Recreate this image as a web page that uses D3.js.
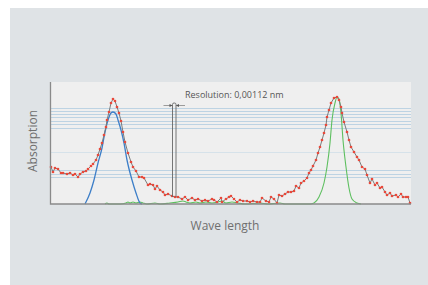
<!DOCTYPE html>
<html>
<head>
<meta charset="utf-8">
<script src="https://cdn.jsdelivr.net/npm/d3@7"></script>
<style>
  html, body { margin: 0; padding: 0; background: #fff; }
  svg { display: block; font-family: "Open Sans", "Noto Sans", sans-serif; }
</style>
</head>
<body>
<div id="chart"></div>
<script>
(function(){
	var width = 428, height = 285;
	var margin = {top: 82, right: 17, bottom: 81, left: 50};

	// measured spectrum (red dots + grey line)
	var measWave = [1, 3, 5, 8, 11, 13, 17, 20, 23, 25, 28, 30, 33, 36, 38, 41, 43, 46, 48, 50,
		52, 54, 56, 57, 59, 61, 63, 65, 67, 69, 71, 73, 75, 78, 81, 83, 86, 89, 92, 94,
		98, 100, 103, 105, 107, 110, 113, 115, 118, 122, 125, 128, 132, 135, 138, 142, 145, 148, 152, 155,
		158, 162, 164, 167, 171, 172, 176, 179, 181, 184, 187, 190, 193, 197, 200, 203, 207, 210, 212, 216,
		219, 221, 224, 227, 229, 232, 235, 238, 241, 244, 246, 249, 251, 254, 257, 259, 261, 263, 266, 268,
		270, 272, 274, 276, 277, 279, 281, 284, 287, 289, 291, 292, 294, 297, 299, 301, 304, 307, 309, 312,
		315, 317, 320, 322, 325, 327, 330, 332, 335, 337, 340, 342, 346, 348, 351, 353, 356, 358, 360];
	var measAbs = [37, 32, 36, 35, 31, 31, 30, 31, 29, 30, 27, 30, 32, 33, 35, 38, 40, 44, 49, 55,
		61, 69, 77, 84, 92, 101, 105, 103, 97, 91, 83, 72, 62, 51, 42, 37, 33, 27, 27, 26,
		19, 20, 19, 15, 18, 14, 12, 9, 10, 8, 7, 7, 5, 7, 4, 6, 4, 5, 3, 4,
		3, 5, 4, 2, 6, 2, 5, 7, 8, 5, 2, 4, 3, 3, 2, 3, 2, 2, 6, 3,
		2, 7, 5, 1, 9, 8, 10, 12, 12, 13, 18, 16, 21, 23, 26, 31, 34, 38, 44, 51,
		57, 64, 71, 79, 87, 94, 101, 106, 107, 104, 97, 91, 82, 72, 64, 57, 52, 47, 44, 37,
		35, 29, 21, 25, 19, 21, 16, 17, 12, 9, 11, 8, 9, 7, 10, 7, 7, 7, 1];

	// fitted component 1 (blue)
	var blueWave = [35, 40, 44, 48, 52, 55, 58, 61, 63, 66, 68, 71, 74, 77, 82, 86, 90, 92];
	var blueAbs  = [0, 11, 24, 41, 56, 72, 84, 91, 92, 90, 84, 74, 61, 44, 24, 11, 1, 0];

	// fitted component 2 (green)
	var greenWave = [55, 57, 59, 70, 76, 78, 80, 83, 86, 90, 93, 97, 105, 110, 120, 128, 133, 136, 140, 146,
		150, 156, 162, 168, 172, 176, 182, 188, 195, 210, 218, 230, 235, 250, 260, 264, 269, 274, 277, 280,
		282, 285, 287, 289, 291, 293, 296, 299, 302, 307, 311];
	var greenAbs = [0, 1, 0, 0, 1, 2, 1, 2, 1, 2, 1, 0, 1, 0, 1, 2, 3, 2, 1, 2,
		1, 2, 1, 2, 3, 1, 2, 1, 0, 1, 0, 1, 0, 0, 0, 1, 7, 21, 37, 61,
		84, 101, 107, 105, 91, 64, 37, 16, 5, 1, 0];

	// horizontal reference lines
	var gridLevels = [96, 93, 90, 87, 83, 80, 76, 52, 34, 30, 27];

	// resolution marker
	var resLabel = "Resolution: 0,00112 nm";
	var resWave = [122.5, 126];
	var resTop = 101, resBottom = 7;

	var w = width - margin.left - margin.right,
	h = height - margin.top - margin.bottom;

	var x = d3.scaleLinear().domain([0, 361]).range([0, w]);
	var y = d3.scaleLinear().domain([0, 122]).range([h, 0]);

	var svg = d3.select("#chart").append("svg")
		.attr("width", width)
		.attr("height", height);

	svg.append("rect")
		.attr("x", 10).attr("y", 8)
		.attr("width", width - 10).attr("height", height - 8)
		.style("fill", "#dfe3e6");

	var g = svg.append("g")
		.attr("transform", "translate(" + margin.left + "," + margin.top + ")");

	g.append("rect")
		.attr("width", w).attr("height", h)
		.style("fill", "#efefef");

	g.selectAll(".grid")
		.data(gridLevels)
		.enter().append("line")
			.attr("class", "grid")
			.attr("x1", 0).attr("x2", w)
			.attr("y1", function(d){ return y(d) + 0.5 })
			.attr("y2", function(d){ return y(d) + 0.5 })
			.style("stroke", function(d){ return d == 52 ? "#d6e2ea" : "#bdd3e3" })
			.style("stroke-width", 1);

	var smooth = d3.line()
		.x(function(d){ return x(d[0]) })
		.y(function(d){ return y(d[1]) })
		.curve(d3.curveMonotoneX);

	g.append("path")
		.datum(d3.zip(greenWave, greenAbs))
		.attr("d", smooth)
		.style("fill", "none")
		.style("stroke", "#5dbf5f")
		.style("stroke-width", 1.1);

	g.append("path")
		.datum(d3.zip(blueWave, blueAbs))
		.attr("d", smooth)
		.style("fill", "none")
		.style("stroke", "#3c7ec8")
		.style("stroke-width", 1.3);

	var meas = d3.zip(measWave, measAbs);

	g.append("path")
		.datum(meas)
		.attr("d", d3.line()
			.x(function(d){ return x(d[0]) })
			.y(function(d){ return y(d[1]) }))
		.style("fill", "none")
		.style("stroke", "#7b7b7b")
		.style("stroke-width", 1);

	g.selectAll(".dot")
		.data(meas)
		.enter().append("circle")
			.attr("class", "dot")
			.attr("cx", function(d){ return x(d[0]) })
			.attr("cy", function(d){ return y(d[1]) })
			.attr("r", 1.35)
			.style("fill", "#e8493b");

	// resolution marker
	var x0 = x(resWave[0]), x1 = x(resWave[1]), yt = y(resTop), yb = y(resBottom);
	g.append("path")
		.attr("d", "M" + x0 + "," + yb + "V" + (yt + 1.5) + "Q" + x0 + "," + yt + " " + (x0 + 1.5) + "," + yt +
			"H" + (x1 - 1.5) + "Q" + x1 + "," + yt + " " + x1 + "," + (yt + 1.5) + "V" + yb)
		.style("fill", "none")
		.style("stroke", "#666")
		.style("stroke-width", 0.9);

	var ya = yt + 2.5;
	g.append("line")
		.attr("x1", x0 - 9).attr("x2", x0).attr("y1", ya).attr("y2", ya)
		.style("stroke", "#777").style("stroke-width", 0.7);
	g.append("line")
		.attr("x1", x1).attr("x2", x1 + 9).attr("y1", ya).attr("y2", ya)
		.style("stroke", "#777").style("stroke-width", 0.7);
	g.append("path")
		.attr("d", "M" + x0 + "," + ya + "l-3,-1.6v3.2z" + "M" + x1 + "," + ya + "l3,-1.6v3.2z")
		.style("fill", "#555");

	g.append("text")
		.attr("x", x1 + 9)
		.attr("y", yt - 5)
		.text(resLabel)
		.style("font-size", "9px")
		.style("fill", "#555");

	// axes
	g.append("path")
		.attr("d", "M0.5,0V" + h + "H" + w)
		.style("fill", "none")
		.style("stroke", "#8a8a8a")
		.style("stroke-width", 1.3);

	g.append("text")
		.attr("transform", "translate(-13," + (h / 2 - 2) + ") rotate(-90)")
		.attr("text-anchor", "middle")
		.text("Absorption")
		.style("font-size", "12px")
		.style("fill", "#6f6f6f");

	g.append("text")
		.attr("x", x(175))
		.attr("y", h + 26)
		.attr("text-anchor", "middle")
		.text("Wave length")
		.style("font-size", "12px")
		.style("fill", "#6f6f6f");
})();
</script>
</body>
</html>
